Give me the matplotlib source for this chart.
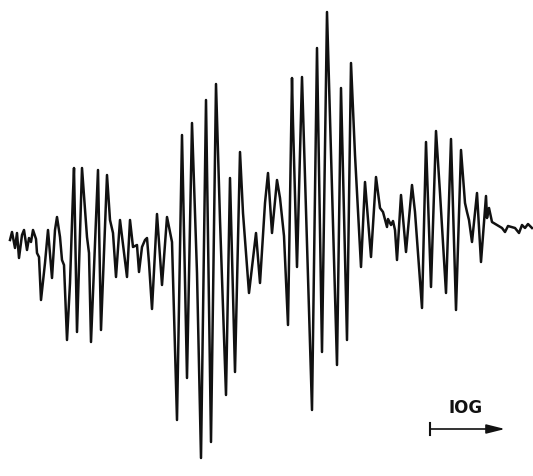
import matplotlib
matplotlib.use("Agg")
import matplotlib.pyplot as plt

# trace (field position, pen deflection; y grows downward)
field = [10, 12, 15, 17, 19, 22, 24, 27, 29, 31, 33, 36, 37, 39, 41, 45, 48, 52, 55, 57,
         60, 62, 64, 67, 70, 73, 74, 77, 82, 87, 89, 91, 98, 101, 107, 110, 113, 116, 120, 127,
         130, 133, 137, 139, 142, 145, 147, 149, 152, 157, 162, 167, 172, 177, 182, 187, 192, 197, 201, 206,
         211, 216, 220, 226, 230, 235, 240, 243, 246, 249, 256, 260, 265, 268, 272, 277, 280, 284, 288, 292,
         293, 297, 302, 312, 317, 322, 327, 337, 341, 347, 351, 355, 361, 365, 371, 376, 380, 383, 387, 388,
         391, 393, 395, 397, 401, 406, 412, 415, 422, 426, 431, 436, 440, 446, 451, 456, 461, 465, 467, 469,
         472, 477, 481, 486, 487, 489, 492, 497, 502, 505, 508, 515, 519, 522, 525, 528, 532]
signal = [240, 232, 248, 233, 258, 235, 230, 250, 238, 242, 230, 239, 253, 257, 300, 263, 230, 278, 230, 217,
          237, 260, 265, 340, 283, 193, 168, 332, 168, 237, 253, 342, 170, 330, 175, 220, 233, 277, 220, 277,
          220, 247, 245, 272, 247, 240, 238, 263, 309, 214, 285, 217, 242, 420, 135, 378, 123, 273, 458, 100,
          442, 84, 220, 395, 178, 372, 152, 213, 253, 293, 233, 283, 203, 173, 233, 180, 198, 236, 325, 78,
          123, 267, 77, 410, 48, 352, 12, 365, 88, 340, 63, 155, 267, 182, 257, 177, 208, 212, 227, 219,
          225, 221, 230, 260, 195, 252, 185, 212, 308, 142, 287, 131, 193, 293, 139, 310, 150, 203, 212, 220,
          242, 193, 262, 196, 218, 208, 222, 225, 228, 232, 226, 228, 233, 225, 228, 224, 228]

scale_label = "IOG"
scale_start, scale_end, scale_y = 430, 505, 429

fig = plt.figure(figsize=(5.33, 4.76), dpi=100)
ax = fig.add_axes([0, 0, 1, 1])
ax.set_xlim(0, 533)
ax.set_ylim(476, 0)
ax.axis("off")

ax.plot(field, signal, color="#111111", lw=1.8, solid_joinstyle="round")

# 10 G scale bar
ax.plot([scale_start, scale_start], [scale_y - 6, scale_y + 6], color="#111111", lw=1.5)
ax.annotate("", xy=(scale_end, scale_y), xytext=(scale_start, scale_y),
            arrowprops=dict(arrowstyle="-|>,head_length=0.8,head_width=0.2", color="#111111",
                            lw=1.2, mutation_scale=14, shrinkA=0, shrinkB=0))
ax.text((scale_start + scale_end) / 2 - 2, scale_y - 12, scale_label,
        ha="center", va="bottom", fontsize=12, fontweight="bold", color="#111111")

fig.savefig("out.png", dpi=100, facecolor="white")
